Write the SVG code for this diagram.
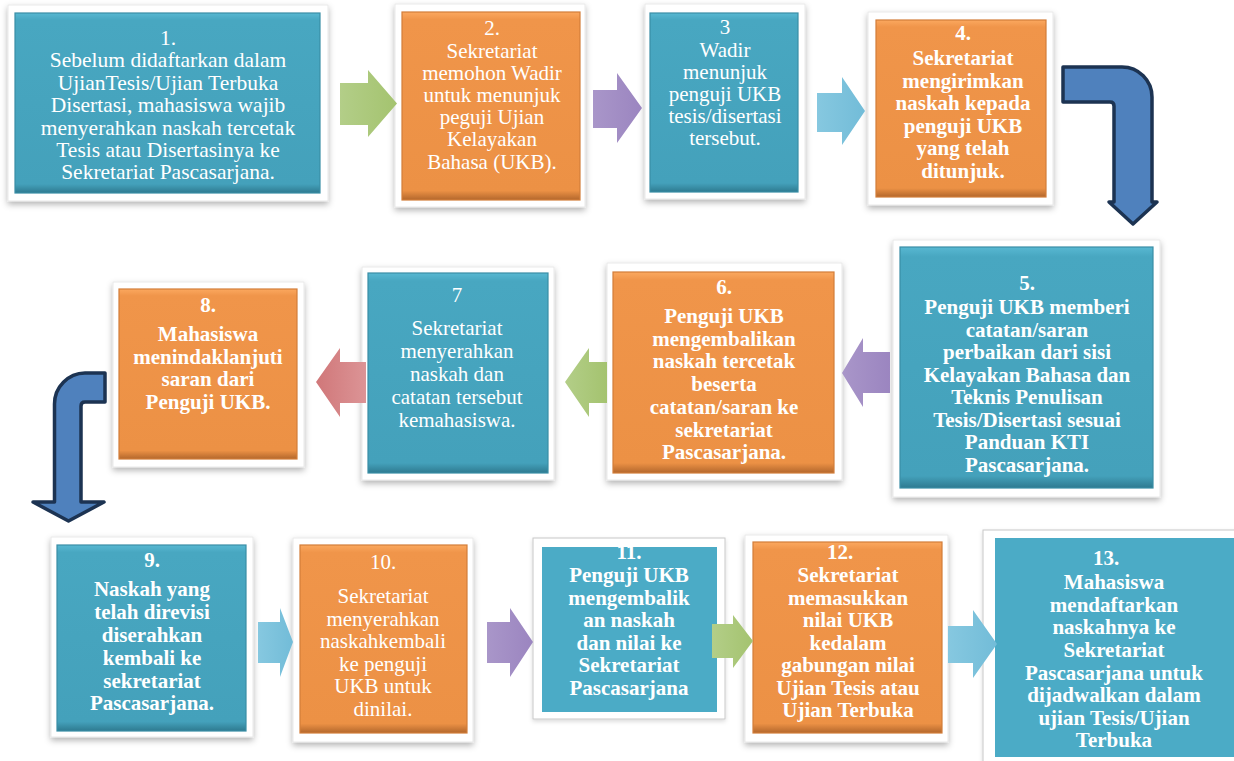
<svg xmlns="http://www.w3.org/2000/svg" width="1234" height="761" viewBox="0 0 1234 761">
<defs>
<filter id="sh" x="-10%" y="-10%" width="120%" height="125%">
<feDropShadow dx="0" dy="3" stdDeviation="3" flood-color="#000" flood-opacity="0.3"/>
</filter>
<filter id="sh2" x="-10%" y="-10%" width="120%" height="125%">
<feDropShadow dx="0" dy="2" stdDeviation="2" flood-color="#000" flood-opacity="0.15"/>
</filter>
<linearGradient id="gT" x1="0" y1="0" x2="0" y2="1">
<stop offset="0" stop-color="#58b8d2"/>
<stop offset="0.04" stop-color="#48a7c1"/>
<stop offset="0.95" stop-color="#44a1bb"/>
<stop offset="1" stop-color="#2e7a90"/>
</linearGradient>
<linearGradient id="gO" x1="0" y1="0" x2="0" y2="1">
<stop offset="0" stop-color="#fba85f"/>
<stop offset="0.04" stop-color="#f0954a"/>
<stop offset="0.95" stop-color="#ec9145"/>
<stop offset="1" stop-color="#b3672c"/>
</linearGradient>
<linearGradient id="aG" x1="0" y1="0" x2="1" y2="0">
<stop offset="0" stop-color="#b3ce88"/>
<stop offset="1" stop-color="#a4c36f"/>
</linearGradient>
<linearGradient id="aP" x1="0" y1="0" x2="1" y2="0">
<stop offset="0" stop-color="#a996c9"/>
<stop offset="1" stop-color="#9b85c0"/>
</linearGradient>
<linearGradient id="aB" x1="0" y1="0" x2="1" y2="0">
<stop offset="0" stop-color="#86c8e0"/>
<stop offset="1" stop-color="#72bcd8"/>
</linearGradient>
<linearGradient id="aR" x1="0" y1="0" x2="1" y2="0">
<stop offset="0" stop-color="#d07779"/>
<stop offset="1" stop-color="#dc9496"/>
</linearGradient>
<style>
.fr { fill:#fff; stroke:#e4e4e4; stroke-width:0.8; filter:url(#sh); }
.fr2 { fill:#fff; stroke:#c8c8c8; stroke-width:1; filter:url(#sh2); }
.teal { fill:url(#gT); stroke:#3a8ea6; stroke-width:1.2; }
.orange { fill:url(#gO); stroke:#d27d39; stroke-width:1.2; }
.flat { fill:#4babc6; }
.t { font-family:"Liberation Serif","Times New Roman",serif; font-size:21px; fill:#fff; text-anchor:middle; }
.b { font-weight:bold; }
.bent { fill:#4f81bd; stroke:#1c3352; stroke-width:3.5; stroke-linejoin:round; }
</style>
</defs>

<g id="node1">
<rect class="fr" x="8" y="5" width="320" height="196"/>
<rect class="teal" x="15" y="13" width="305" height="180"/>
<text class="t" style="font-size:21.5px"><tspan x="168" y="45">1.</tspan><tspan x="168" y="67.4">Sebelum didaftarkan dalam</tspan><tspan x="168" y="89.8">UjianTesis/Ujian Terbuka</tspan><tspan x="168" y="112.2">Disertasi, mahasiswa wajib</tspan><tspan x="168" y="134.6">menyerahkan naskah tercetak</tspan><tspan x="168" y="157">Tesis atau Disertasinya ke</tspan><tspan x="168" y="179.4">Sekretariat Pascasarjana.</tspan></text>
</g>

<g id="node2">
<rect class="fr" x="395" y="4" width="190" height="203"/>
<rect class="orange" x="402" y="12" width="178" height="188"/>
<text class="t"><tspan x="492" y="35">2.</tspan><tspan x="492" y="58">Sekretariat</tspan><tspan x="492" y="80">memohon Wadir</tspan><tspan x="492" y="102">untuk menunjuk</tspan><tspan x="492" y="124">peguji Ujian</tspan><tspan x="492" y="146">Kelayakan</tspan><tspan x="492" y="168.5">Bahasa (UKB).</tspan></text>
</g>

<g id="node3">
<rect class="fr" x="645" y="4" width="160" height="195"/>
<rect class="teal" x="650" y="13" width="148" height="179"/>
<text class="t"><tspan x="725" y="34">3</tspan><tspan x="725" y="56.5">Wadir</tspan><tspan x="725" y="79">menunjuk</tspan><tspan x="725" y="101">penguji UKB</tspan><tspan x="725" y="123">tesis/disertasi</tspan><tspan x="725" y="145">tersebut.</tspan></text>
</g>

<g id="node4">
<rect class="fr" x="868" y="12" width="185" height="193"/>
<rect class="orange" x="876" y="20" width="170" height="177"/>
<text class="t b"><tspan x="963" y="40">4.</tspan><tspan x="963" y="65">Sekretariat</tspan><tspan x="963" y="87.5">mengirimkan</tspan><tspan x="963" y="110">naskah kepada</tspan><tspan x="963" y="132.5">penguji UKB</tspan><tspan x="963" y="155">yang telah</tspan><tspan x="963" y="177.5">ditunjuk.</tspan></text>
</g>

<g id="node5">
<rect class="fr" x="893" y="240" width="267" height="257"/>
<rect class="teal" x="900" y="247" width="253" height="241"/>
<text class="t b"><tspan x="1027" y="290">5.</tspan><tspan x="1027" y="314">Penguji UKB memberi</tspan><tspan x="1027" y="336.5">catatan/saran</tspan><tspan x="1027" y="359">perbaikan dari sisi</tspan><tspan x="1027" y="381.5">Kelayakan Bahasa dan</tspan><tspan x="1027" y="404">Teknis Penulisan</tspan><tspan x="1027" y="426.5">Tesis/Disertasi sesuai</tspan><tspan x="1027" y="449">Panduan KTI</tspan><tspan x="1027" y="471.5">Pascasarjana.</tspan></text>
</g>

<g id="node6">
<rect class="fr" x="607" y="263" width="235" height="217"/>
<rect class="orange" x="613" y="272" width="221" height="201"/>
<text class="t b"><tspan x="724" y="294">6.</tspan><tspan x="724" y="323">Penguji UKB</tspan><tspan x="724" y="345.5">mengembalikan</tspan><tspan x="724" y="368">naskah tercetak</tspan><tspan x="724" y="391">beserta</tspan><tspan x="724" y="414">catatan/saran ke</tspan><tspan x="724" y="436.5">sekretariat</tspan><tspan x="724" y="459">Pascasarjana.</tspan></text>
</g>

<g id="node7">
<rect class="fr" x="362" y="267" width="192" height="213"/>
<rect class="teal" x="368" y="273" width="180" height="200"/>
<text class="t"><tspan x="457" y="302">7</tspan><tspan x="457" y="335">Sekretariat</tspan><tspan x="457" y="358">menyerahkan</tspan><tspan x="457" y="381">naskah dan</tspan><tspan x="457" y="404">catatan tersebut</tspan><tspan x="457" y="427">kemahasiswa.</tspan></text>
</g>

<g id="node8">
<rect class="fr" x="113" y="282" width="191" height="185"/>
<rect class="orange" x="119" y="289" width="178" height="170"/>
<text class="t b"><tspan x="208" y="312">8.</tspan><tspan x="208" y="341">Mahasiswa</tspan><tspan x="208" y="364">menindaklanjuti</tspan><tspan x="208" y="386">saran dari</tspan><tspan x="208" y="409">Penguji UKB.</tspan></text>
</g>

<g id="node9">
<rect class="fr" x="51" y="537" width="202" height="200"/>
<rect class="teal" x="57" y="545" width="189" height="186"/>
<text class="t b"><tspan x="152" y="567">9.</tspan><tspan x="152" y="596">Naskah yang</tspan><tspan x="152" y="619">telah direvisi</tspan><tspan x="152" y="642">diserahkan</tspan><tspan x="152" y="665">kembali ke</tspan><tspan x="152" y="688">sekretariat</tspan><tspan x="152" y="710">Pascasarjana.</tspan></text>
</g>

<g id="node10">
<rect class="fr" x="293" y="538" width="180" height="204"/>
<rect class="orange" x="300" y="545" width="167" height="188"/>
<text class="t"><tspan x="383" y="569">10.</tspan><tspan x="383" y="603">Sekretariat</tspan><tspan x="383" y="625.5">menyerahkan</tspan><tspan x="383" y="648">naskahkembali</tspan><tspan x="383" y="670.5">ke penguji</tspan><tspan x="383" y="693">UKB untuk</tspan><tspan x="383" y="715.5">dinilai.</tspan></text>
</g>

<g id="node11">
<rect class="fr2" x="533" y="538" width="192" height="181"/>
<rect class="flat" x="542" y="547" width="175" height="165"/>
<text class="t b"><tspan x="629" y="559">11.</tspan><tspan x="629" y="582">Penguji UKB</tspan><tspan x="629" y="604.5">mengembalik</tspan><tspan x="629" y="627">an naskah</tspan><tspan x="629" y="649.5">dan nilai ke</tspan><tspan x="629" y="672">Sekretariat</tspan><tspan x="629" y="694.5">Pascasarjana</tspan></text>
</g>

<g id="node12">
<rect class="fr" x="745" y="535" width="203" height="207"/>
<rect class="orange" x="753" y="542" width="189" height="191"/>
<text class="t b"><tspan x="840" y="559">12.</tspan><tspan x="848" y="582">Sekretariat</tspan><tspan x="848" y="604.5">memasukkan</tspan><tspan x="848" y="627">nilai UKB</tspan><tspan x="848" y="649.5">kedalam</tspan><tspan x="848" y="672">gabungan nilai</tspan><tspan x="848" y="694.5">Ujian Tesis atau</tspan><tspan x="848" y="717">Ujian Terbuka</tspan></text>
</g>

<g id="node13">
<rect class="fr2" x="983" y="530" width="260" height="240"/>
<rect class="flat" x="995" y="538" width="245" height="219"/>
<text class="t b"><tspan x="1106" y="565">13.</tspan><tspan x="1114" y="589">Mahasiswa</tspan><tspan x="1114" y="612">mendaftarkan</tspan><tspan x="1114" y="634">naskahnya ke</tspan><tspan x="1114" y="657">Sekretariat</tspan><tspan x="1114" y="680">Pascasarjana untuk</tspan><tspan x="1114" y="702">dijadwalkan dalam</tspan><tspan x="1114" y="725">ujian Tesis/Ujian</tspan><tspan x="1114" y="747">Terbuka</tspan></text>
</g>

<g id="connectors">
<polygon points="340,83 368,83 368,70 397,103.5 368,137 368,125 340,125" fill="url(#aG)"/>
<polygon points="593,90 617,90 617,73 642,108 617,143 617,128 593,128" fill="url(#aP)"/>
<polygon points="817,93 842,93 842,77 865,111 842,145 842,132 817,132" fill="url(#aB)"/>
<path class="bent" d="M1063,67 L1122,67 A30,30 0 0 1 1152,97 L1152,202 L1157,202 L1133,224 L1109,202 L1114,202 L1114,106 Q1114,102 1110,102 L1063,102 Z"/>
<polygon points="890,352 863,352 863,338 842,373 863,407 863,393 890,393" fill="url(#aP)"/>
<polygon points="607,362 589,362 589,348 565,382 589,417 589,403 607,403" fill="url(#aG)"/>
<polygon points="366,362 340,362 340,348 316,382 340,417 340,403 366,403" fill="url(#aR)"/>
<path class="bent" d="M105,373 L85,373 A31,31 0 0 0 54.5,404 L54.5,502 L33,502 L68.5,521 L104,502 L81,502 L81,406 Q81,402 85,402 L105,402 Z"/>
<polygon points="258,622 280,622 280,608 293,642 280,677 280,663 258,663" fill="url(#aB)"/>
<polygon points="487,622 510,622 510,608 533,642 510,677 510,663 487,663" fill="url(#aP)"/>
<polygon points="712,624 733,624 733,615 753,641 733,668 733,658 712,658" fill="url(#aG)"/>
<polygon points="948,626 973,626 973,610 997,644 973,678 973,663 948,663" fill="url(#aB)"/>
</g>
</svg>
